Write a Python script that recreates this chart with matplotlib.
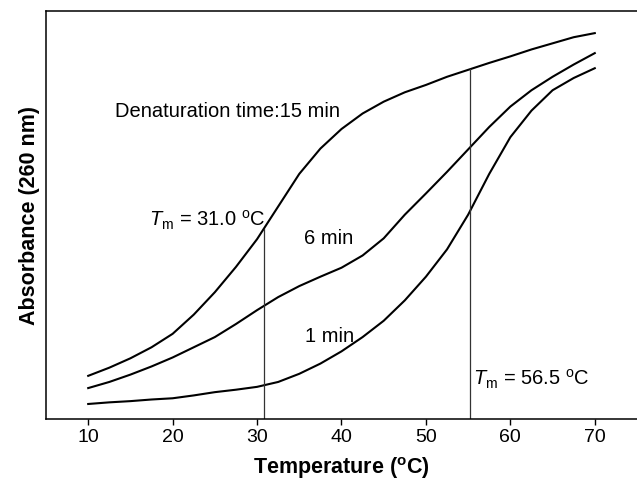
import numpy as np
import matplotlib.pyplot as plt

plt.rcParams['font.family'] = ['Liberation Sans', 'DejaVu Sans']
plt.rcParams['mathtext.fontset'] = 'custom'
plt.rcParams['mathtext.rm'] = 'Liberation Sans'
plt.rcParams['mathtext.it'] = 'Liberation Sans:italic'
plt.rcParams['mathtext.bf'] = 'Liberation Sans:bold'

# temperature (C)
temps = [10, 12.5, 15, 17.5, 20, 22.5, 25, 27.5, 30, 32.5, 35, 37.5, 40,
         42.5, 45, 47.5, 50, 52.5, 55, 57.5, 60, 62.5, 65, 67.5, 70]

# absorbance as a fraction of the axis height (the original has no y scale)
abs_15 = [0.105, 0.125, 0.148, 0.175, 0.208, 0.255, 0.31, 0.372, 0.44, 0.52, 0.6, 0.662, 0.71,
          0.748, 0.777, 0.80, 0.818, 0.838, 0.855, 0.872, 0.888, 0.905, 0.92, 0.935, 0.945]
abs_6 = [0.075, 0.09, 0.108, 0.128, 0.15, 0.175, 0.2, 0.232, 0.266, 0.298, 0.325, 0.348, 0.37,
         0.4, 0.442, 0.5, 0.552, 0.605, 0.66, 0.715, 0.765, 0.805, 0.838, 0.868, 0.896]
abs_1 = [0.036, 0.04, 0.043, 0.047, 0.05, 0.057, 0.065, 0.071, 0.078, 0.09, 0.11, 0.135, 0.165,
         0.2, 0.24, 0.29, 0.348, 0.415, 0.5, 0.6, 0.69, 0.755, 0.805, 0.835, 0.859]

tm_lines = [30.8, 55.2]
xticks = [10, 20, 30, 40, 50, 60, 70]

fig = plt.figure(figsize=(6.37, 4.81), dpi=100)
ax = fig.add_axes([0.0722, 0.1275, 0.9278, 0.8482])

for a in [abs_15, abs_6, abs_1]:
    ax.plot(temps, a, color='black', lw=1.5)

# vertical Tm markers, from the axis up to the 15 min curve
for xt in tm_lines:
    top = np.interp(xt, temps, abs_15)
    ax.plot([xt, xt], [0, top], color='#333333', lw=0.9)

ax.set_xlim(5, 75)
ax.set_ylim(0, 1)
ax.set_xticks(xticks)
ax.set_yticks([])
ax.tick_params(axis='x', direction='out', length=4, width=1, labelsize=14, pad=3)
for s in ['left', 'top', 'bottom']:
    ax.spines[s].set_linewidth(1.1)
ax.spines['right'].set_visible(False)

ax.set_xlabel(r'Temperature ($^{\mathbf{o}}$C)', fontsize=15.5, fontweight='bold', labelpad=6)
ax.set_ylabel('Absorbance (260 nm)', fontsize=15.5, fontweight='bold', labelpad=4)

ax.text(13.2, 0.755, 'Denaturation time:15 min', fontsize=14.5, va='center')
ax.text(35.5, 0.445, '6 min', fontsize=14.5, va='center')
ax.text(35.7, 0.203, '1 min', fontsize=14.5, va='center')
ax.text(17.2, 0.489, r'$T_{\mathrm{m}}$ = 31.0 $^{\mathrm{o}}$C', fontsize=14.5, va='center')
ax.text(55.6, 0.10, r'$T_{\mathrm{m}}$ = 56.5 $^{\mathrm{o}}$C', fontsize=14.5, va='center')

fig.savefig('out.png', dpi=100)
